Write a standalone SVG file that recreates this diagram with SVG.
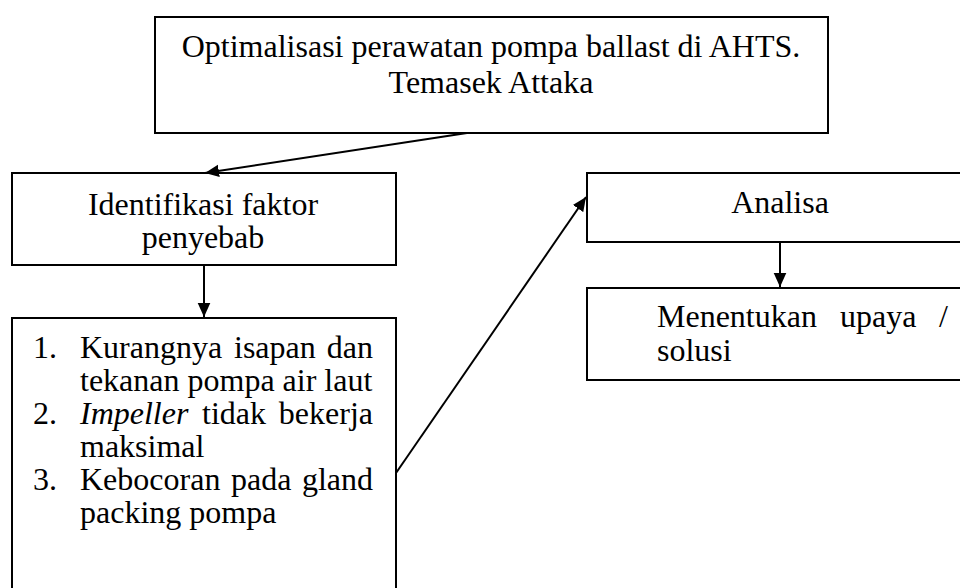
<svg xmlns="http://www.w3.org/2000/svg" width="960" height="588" viewBox="0 0 960 588">
<defs>
<style>
.box{fill:#fff;stroke:#000;stroke-width:2}
.t{font-size:32px;fill:#000}
.c{text-anchor:middle}
.e{text-anchor:end}
.i{font-style:italic}
.ln{stroke:#000;stroke-width:2;fill:none}
</style>
<marker id="ah" viewBox="0 0 10 10" refX="10" refY="5" markerWidth="7" markerHeight="7" markerUnits="strokeWidth" orient="auto">
<path d="M0,0.5 L10,5 L0,9.5 z" fill="#000"/>
</marker>
</defs>
<rect width="960" height="588" fill="#fff"/>
<g id="node-top">
<rect class="box" x="155" y="17" width="673" height="116"/>
<text class="t c" font-family="Liberation Serif" x="491" y="57">Optimalisasi perawatan pompa ballast di AHTS.</text>
<text class="t c" font-family="Liberation Serif" x="491" y="93">Temasek Attaka</text>
</g>
<g id="node-identifikasi">
<rect class="box" x="12" y="173" width="384" height="92"/>
<text class="t c" font-family="Liberation Serif" x="203" y="215">Identifikasi faktor</text>
<text class="t c" font-family="Liberation Serif" x="203" y="248">penyebab</text>
</g>
<g id="node-list">
<rect class="box" x="12" y="318" width="384" height="290"/>
<text class="t" font-family="Liberation Serif" x="33" y="358">1.</text>
<text class="t" font-family="Liberation Serif" x="80" y="358">Kurangnya</text>
<text class="t" font-family="Liberation Serif" x="234" y="358">isapan</text>
<text class="t e" font-family="Liberation Serif" x="373" y="358">dan</text>
<text class="t" font-family="Liberation Serif" x="80" y="391">tekanan pompa air laut</text>
<text class="t" font-family="Liberation Serif" x="33" y="424">2.</text>
<text class="t i" font-family="Liberation Serif" x="80" y="424">Impeller</text>
<text class="t" font-family="Liberation Serif" x="202" y="424">tidak</text>
<text class="t e" font-family="Liberation Serif" x="373" y="424">bekerja</text>
<text class="t" font-family="Liberation Serif" x="80" y="457">maksimal</text>
<text class="t" font-family="Liberation Serif" x="33" y="490">3.</text>
<text class="t" font-family="Liberation Serif" x="80" y="490">Kebocoran</text>
<text class="t" font-family="Liberation Serif" x="231" y="490">pada</text>
<text class="t e" font-family="Liberation Serif" x="373" y="490">gland</text>
<text class="t" font-family="Liberation Serif" x="80" y="523">packing pompa</text>
</g>
<g id="node-analisa">
<rect class="box" x="587" y="173" width="380" height="69"/>
<text class="t c" font-family="Liberation Serif" x="780" y="213">Analisa</text>
</g>
<g id="node-menentukan">
<rect class="box" x="587" y="288" width="380" height="92"/>
<text class="t" font-family="Liberation Serif" x="657" y="327">Menentukan</text>
<text class="t" font-family="Liberation Serif" x="840" y="327">upaya</text>
<text class="t e" font-family="Liberation Serif" x="948" y="327">/</text>
<text class="t" font-family="Liberation Serif" x="657" y="361">solusi</text>
</g>
<g id="connectors">
<line class="ln" x1="467" y1="133" x2="205" y2="173" marker-end="url(#ah)"/>
<line class="ln" x1="204" y1="265" x2="204" y2="317" marker-end="url(#ah)"/>
<line class="ln" x1="396" y1="473" x2="586" y2="197" marker-end="url(#ah)"/>
<line class="ln" x1="780" y1="242" x2="780" y2="287" marker-end="url(#ah)"/>
</g>
</svg>
